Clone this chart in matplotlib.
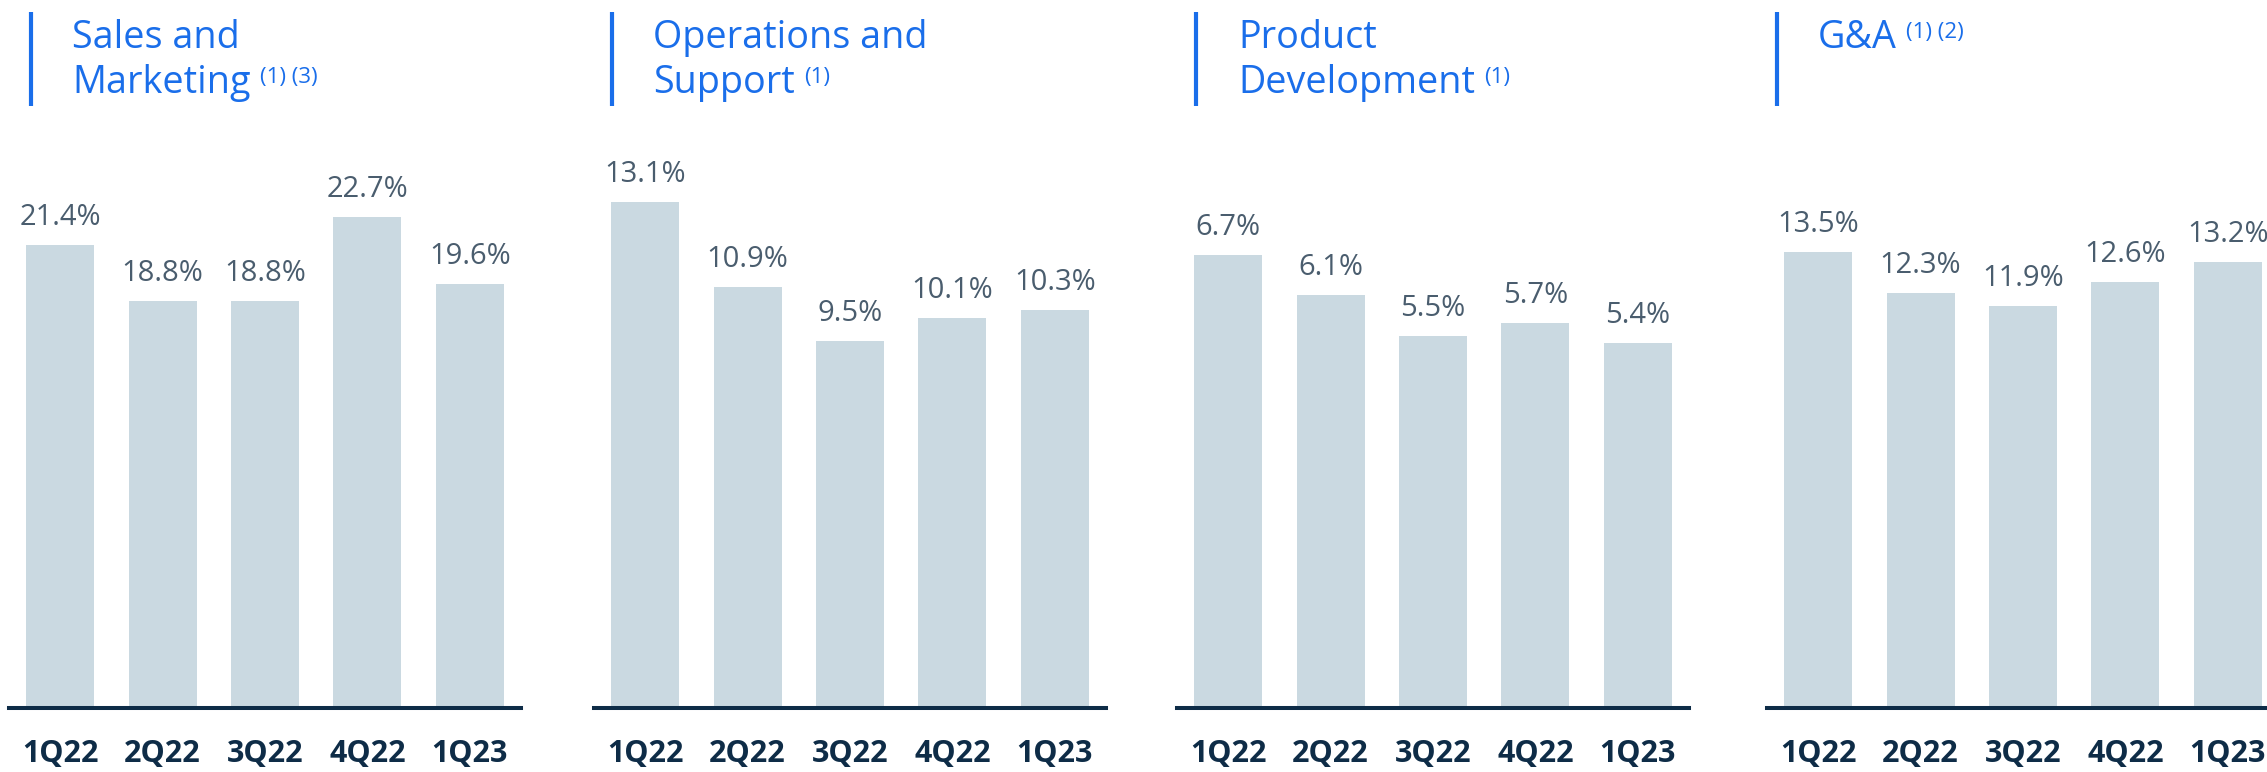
import matplotlib
matplotlib.use('Agg')
import matplotlib.pyplot as plt
from matplotlib.lines import Line2D

plt.rcParams['font.family'] = ['Open Sans', 'DejaVu Sans']

# quarterly opex as % of revenue
quarters = ['1Q22', '2Q22', '3Q22', '4Q22', '1Q23']
sales_marketing = [21.4, 18.8, 18.8, 22.7, 19.6]
ops_support = [13.1, 10.9, 9.5, 10.1, 10.3]
product_dev = [6.7, 6.1, 5.5, 5.7, 5.4]
g_and_a = [13.5, 12.3, 11.9, 12.6, 13.2]

series = [sales_marketing, ops_support, product_dev, g_and_a]
titles = [['Sales and', 'Marketing'], ['Operations and', 'Support'],
          ['Product', 'Development'], ['G&A']]
notes = ['(1) (3)', '(1)', '(1)', '(1) (2)']

# layout, in pixels
W, H = 2267, 772
axes_left = [9, 594, 1177, 1767]
axes_w = 512
y_tops = [28.1, 15.74, 8.99, 18.0]
accent_x = [31, 612, 1196, 1777]
title_x = [72, 653, 1238, 1818]
base_y = 708
top_y = 100

BLUE = '#1a6eea'
BAR = '#cad9e1'
LABEL = '#4a5d6e'
NAVY = '#0e2c47'

fig = plt.figure(figsize=(W / 100, H / 100), dpi=100)
fig.patch.set_facecolor('white')

last_lines = []
for k, vals in enumerate(series):
    ax = fig.add_axes([axes_left[k] / W, 1 - base_y / H,
                       axes_w / W, (base_y - top_y) / H])
    x = list(range(len(quarters)))
    ax.bar(x, vals, width=0.665, color=BAR, zorder=1)
    for xi, v in zip(x, vals):
        ax.annotate(f'{v:.1f}%', xy=(xi, v), xytext=(0, 14.4),
                    textcoords='offset points', ha='center', va='baseline',
                    fontsize=21, color=LABEL)
    ax.set_xlim(-0.5, 4.5)
    ax.set_ylim(0, y_tops[k])
    ax.set_xticks(x)
    ax.set_xticklabels(quarters, fontsize=22, fontweight='bold', color=NAVY)
    ax.tick_params(axis='x', length=0, pad=22)
    ax.set_yticks([])
    for side in ['top', 'left', 'right']:
        ax.spines[side].set_visible(False)
    ax.spines['bottom'].set_color(NAVY)
    ax.spines['bottom'].set_linewidth(2.9)
    ax.patch.set_alpha(0)

    # blue accent bar next to the heading
    fig.add_artist(Line2D([accent_x[k] / W] * 2, [1 - 12 / H, 1 - 106 / H],
                          color=BLUE, linewidth=3, solid_capstyle='butt'))
    t = None
    for j, line in enumerate(titles[k]):
        t = fig.text(title_x[k] / W, 1 - (48 + 45 * j) / H, line,
                     fontsize=27.2, color=BLUE, ha='left', va='baseline')
    last_lines.append(t)

# footnote markers after the last heading line
fig.canvas.draw()
renderer = fig.canvas.get_renderer()
for t, note in zip(last_lines, notes):
    bb = t.get_window_extent(renderer)
    bx, by = t.get_position()
    fig.text((bb.x1 + 9) / W, by + 10 / H, note, fontsize=16,
             color=BLUE, ha='left', va='baseline')

fig.savefig('out.png', dpi=100)
